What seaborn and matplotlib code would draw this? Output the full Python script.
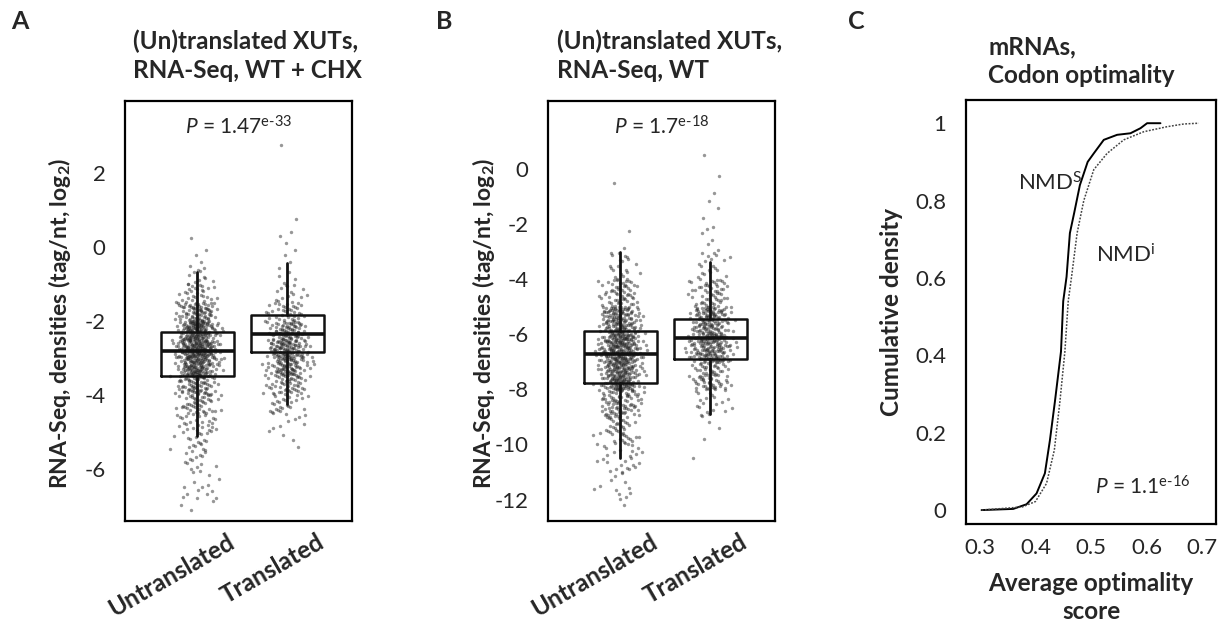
import numpy as np
import pandas as pd
import matplotlib.pyplot as plt
import matplotlib.transforms as mtransforms
import seaborn as sns

# Box statistics (q1, median, q3, whisker low / high)
CATEGORIES = ["Untranslated", "Translated"]

A_Q1 = [-3.48, -2.84]
A_MED = [-2.81, -2.35]
A_Q3 = [-2.29, -1.84]
A_WLO = [-5.10, -4.25]
A_WHI = [-0.67, -0.44]

B_Q1 = [-7.77, -6.91]
B_MED = [-6.72, -6.12]
B_Q3 = [-5.88, -5.45]
B_WLO = [-10.49, -8.88]
B_WHI = [-3.02, -3.36]

# Point clouds, as counts per bin (upper bin edge, counts from top to bottom)
A_BIN_TOP = [3.0, 2.5, 2.0, 1.5, 1.0, 0.5, 0.0, -0.5, -1.0, -1.5, -2.0, -2.5,
             -3.0, -3.5, -4.0, -4.5, -5.0, -5.5, -6.0, -6.4, -6.6]
A_BIN = 0.5
A_UNTR_COUNTS = [0, 0, 0, 0, 0, 1, 3, 12, 30, 80, 150, 180,
                 140, 75, 45, 28, 18, 14, 6, 8, 4]
A_TR_COUNTS = [1, 0, 0, 0, 1, 3, 3, 5, 15, 35, 75, 110,
               90, 50, 25, 8, 3, 0, 0, 0, 0]

B_BIN_TOP = [2, 1, 0, -1, -2, -3, -4, -5, -6, -7, -8, -9, -10, -11, -11.4]
B_BIN = 1.0
B_UNTR_COUNTS = [0, 0, 1, 0, 2, 20, 60, 150, 220, 190, 90, 45, 25, 10, 3]
B_TR_COUNTS = [0, 1, 2, 3, 6, 20, 55, 130, 160, 75, 22, 3, 1, 0, 0]

# Cumulative distributions of the optimality score
NMDS_X = [0.303, 0.36, 0.384, 0.402, 0.417, 0.426, 0.435, 0.446, 0.45, 0.456,
          0.462, 0.47, 0.48, 0.494, 0.505, 0.523, 0.547, 0.571, 0.589, 0.601, 0.625]
NMDS_Y = [0.0, 0.003, 0.015, 0.043, 0.095, 0.18, 0.28, 0.41, 0.54, 0.603,
          0.716, 0.77, 0.84, 0.90, 0.922, 0.957, 0.97, 0.974, 0.987, 1.0, 1.0]
NMDI_X = [0.303, 0.376, 0.40, 0.42, 0.434, 0.444, 0.453, 0.459, 0.465, 0.475,
          0.487, 0.505, 0.529, 0.559, 0.595, 0.637, 0.667, 0.694]
NMDI_Y = [0.0, 0.008, 0.022, 0.069, 0.155, 0.28, 0.41, 0.54, 0.603, 0.716,
          0.80, 0.88, 0.922, 0.957, 0.978, 0.991, 0.998, 1.0]

sns.set_theme(style="white")
plt.rcParams["font.family"] = ["Lato", "DejaVu Sans"]
plt.rcParams["mathtext.fontset"] = "custom"
plt.rcParams["mathtext.rm"] = "Lato"
plt.rcParams["mathtext.it"] = "Lato:italic"
plt.rcParams["mathtext.bf"] = "Lato:bold"
plt.rcParams["axes.unicode_minus"] = False

TICK_FS = 16
W, H = 1229, 627
fig = plt.figure(figsize=(W / 100, H / 100), dpi=100)


def _px_axes(left, top, right, bottom):
    return fig.add_axes([left / W, 1 - bottom / H, (right - left) / W, (bottom - top) / H])


def _expand(bin_top, width, counts):
    vals = []
    for top, n in zip(bin_top, counts):
        if n == 0:
            continue
        frac = (np.arange(n) * 0.6180339887 + 0.5 / n) % 1.0
        vals.extend(top - frac * width)
    return np.array(vals)


def _spread(n, half):
    # deterministic jitter, bell shaped
    i = np.arange(n)
    a = (i * 0.7548776662 + 0.11) % 1.0
    b = (i * 0.5698402910 + 0.37) % 1.0
    c = (i * 0.4142135624 + 0.73) % 1.0
    return (a + b + c - 1.5) / 1.5 * half


def _box_panel(ax, bin_top, width, counts_list, q1, med, q3, wlo, whi):
    frames = []
    for pos, counts in enumerate(counts_list):
        y = _expand(bin_top, width, counts)
        frames.append(pd.DataFrame({"x": pos + _spread(len(y), 0.34), "y": y}))
    pts = pd.concat(frames, ignore_index=True)
    sns.scatterplot(data=pts, x="x", y="y", ax=ax, s=6, color="#262626",
                    alpha=0.48, linewidth=0, zorder=1, legend=False)
    stats = [
        {"q1": q1[k], "med": med[k], "q3": q3[k], "whislo": wlo[k], "whishi": whi[k],
         "fliers": []}
        for k in range(len(CATEGORIES))
    ]
    ax.bxp(stats, positions=[0, 1], widths=0.81, showcaps=False, showfliers=False,
           patch_artist=False, manage_ticks=False,
           boxprops=dict(color="#111111", linewidth=1.8),
           medianprops=dict(color="#111111", linewidth=2.6),
           whiskerprops=dict(color="#111111", linewidth=2.0), zorder=3)
    ax.set_xlim(-0.8, 1.72)
    ax.set_xticks([0, 1])
    ax.set_xticklabels(["", ""])
    offset = mtransforms.ScaledTranslation(0.41, -0.09, fig.dpi_scale_trans)
    for pos, name in enumerate(CATEGORIES):
        ax.text(pos, 0, name, transform=ax.get_xaxis_transform() + offset,
                rotation=30, ha="right", va="top", fontweight="bold", fontsize=17.5)
    ax.set_xlabel("")
    ax.set_ylabel("RNA-Seq, densities (tag/nt, log$_\\mathbf{2}$)", fontweight="bold",
                  fontsize=16.5)
    ax.tick_params(axis="both", length=0, labelsize=TICK_FS)
    ax.tick_params(axis="y", pad=14)
    for sp in ax.spines.values():
        sp.set_color("black")
        sp.set_linewidth(1.6)


# Panel A
ax_a = _px_axes(125, 101, 352, 521)
_box_panel(ax_a, A_BIN_TOP, A_BIN, [A_UNTR_COUNTS, A_TR_COUNTS],
           A_Q1, A_MED, A_Q3, A_WLO, A_WHI)
ax_a.set_ylim(-7.4, 3.95)
ax_a.set_yticks([-6, -4, -2, 0, 2])
ax_a.yaxis.set_label_coords(-0.229, 0.47)
ax_a.text(0.5, 0.938, r"$\mathit{P}$ = 1.47$^{\mathrm{e\text{-}33}}$",
          transform=ax_a.transAxes, ha="center", va="center", fontsize=15)

# Panel B
ax_b = _px_axes(548, 101, 775, 521)
_box_panel(ax_b, B_BIN_TOP, B_BIN, [B_UNTR_COUNTS, B_TR_COUNTS],
           B_Q1, B_MED, B_Q3, B_WLO, B_WHI)
ax_b.set_ylim(-12.78, 2.48)
ax_b.set_yticks([-12, -10, -8, -6, -4, -2, 0])
ax_b.yaxis.set_label_coords(-0.225, 0.47)
ax_b.text(0.5, 0.938, r"$\mathit{P}$ = 1.7$^{\mathrm{e\text{-}18}}$",
          transform=ax_b.transAxes, ha="center", va="center", fontsize=15)

# Panel C
ax_c = _px_axes(966, 100, 1216, 524)
sns.lineplot(x=NMDS_X, y=NMDS_Y, ax=ax_c, color="black", linewidth=1.4,
             sort=False, estimator=None)
sns.lineplot(x=NMDI_X, y=NMDI_Y, ax=ax_c, color="#444444", linewidth=1.1,
             linestyle=(0, (1.2, 1.0)), sort=False, estimator=None)
ax_c.set_xlim(0.275, 0.725)
ax_c.set_ylim(-0.036, 1.06)
ax_c.set_xticks([0.3, 0.4, 0.5, 0.6, 0.7])
ax_c.set_xticklabels(["0.3", "0.4", "0.5", "0.6", "0.7"])
ax_c.set_yticks([0, 0.2, 0.4, 0.6, 0.8, 1.0])
ax_c.set_yticklabels(["0", "0.2", "0.4", "0.6", "0.8", "1"])
ax_c.tick_params(axis="both", length=0, labelsize=TICK_FS)
ax_c.tick_params(axis="y", pad=14)
ax_c.tick_params(axis="x", pad=10)
ax_c.set_xlabel("Average optimality\nscore", fontweight="bold", fontsize=17.5,
                linespacing=1.3, labelpad=10)
ax_c.set_ylabel("Cumulative density", fontweight="bold", fontsize=17.5)
ax_c.yaxis.set_label_coords(-0.252, 0.5)
for sp in ax_c.spines.values():
    sp.set_color("black")
    sp.set_linewidth(1.6)
ax_c.text(0.369, 0.846, r"NMD$^{\mathrm{S}}$", ha="left", va="center", fontsize=16)
ax_c.text(0.509, 0.66, r"NMD$^{\mathrm{i}}$", ha="left", va="center", fontsize=16)
ax_c.text(0.508, 0.06, r"$\mathit{P}$ = 1.1$^{\mathrm{e\text{-}16}}$", ha="left",
          va="center", fontsize=15)

# Titles and panel letters
title_kw = dict(fontweight="bold", fontsize=17.5, va="top", ha="left", linespacing=1.3)
fig.text(133 / W, 1 - 30 / H, "(Un)translated XUTs,\nRNA-Seq, WT + CHX", **title_kw)
fig.text(557 / W, 1 - 30 / H, "(Un)translated XUTs,\nRNA-Seq, WT", **title_kw)
fig.text(988 / W, 1 - 35 / H, "mRNAs,\nCodon optimality", **title_kw)
for x, letter in [(11, "A"), (436, "B"), (848, "C")]:
    fig.text(x / W, 1 - 10 / H, letter, fontweight="bold", fontsize=18, va="top", ha="left")

fig.savefig("out.png", dpi=100)
